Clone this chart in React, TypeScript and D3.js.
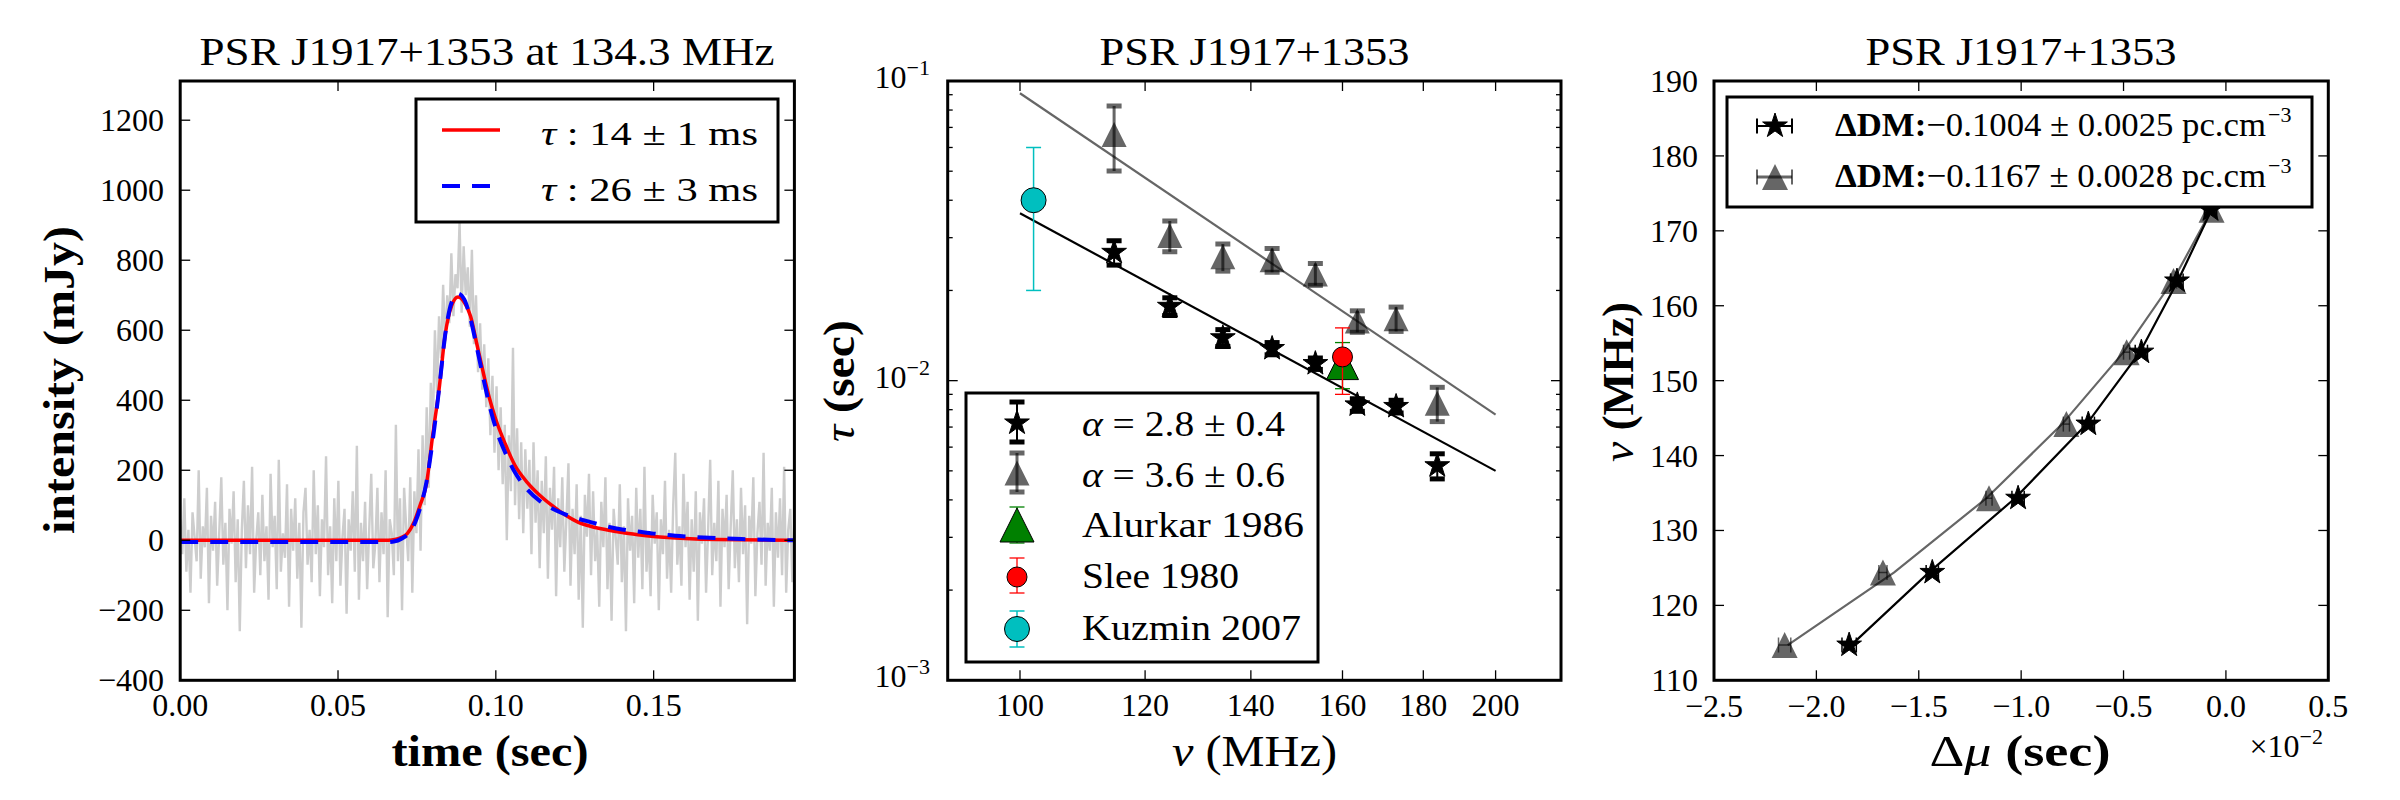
import React from "react";
import * as d3 from "d3";

const SERIF = "'Liberation Serif','Times New Roman',serif";

// ---------------- Panel 1 : pulse profile ----------------
const profileTimeMax = 0.1946;
const profileIntensity = [
  60, -40, 120, -90, 30, -150, 80, 10, -60, 200, -110, 40, -20, 150, -180, 70, -30, 110, -130, 20,
  180, -70, 50, -200, 90, -10, 140, -120, 60, -260, 30, 170, -80, 100, -40, 210, -150, 0, 80, -100,
  130, -60, 40, -170, 190, -20, 70, -140, 230, -90, 20, -50, 160, -190, 90, -30, 120, -110, 50, -250,
  80, 150, -70, 30, -120, 200, -40, 100, -160, 60, -20, 240, -100, 40, -180, 120, -60, 170, -130, 10,
  90, -210, 60, -30, 140, -90, 270, -170, 50, -60, 110, -140, 30, 190, -80, -10, 150, -120, 80, -40,
  200, -220, 60, 20, -100,
  330, -60, 120, -200, 150, 40, -60, 180, -150, 140, 20, 260, -30, 300, 100, 380, 150, 450, 320, 600,
  420, 640, 520, 730, 560, 700, 620, 820, 640, 760, 720, 910, 650, 840, 700, 780, 610, 830, 560, 700,
  480, 620, 430, 560, 380, 520, 300, 470, 250, 440, 200, 380, 160, 330, 0, 300, 140, 550, 100, 320,
  60, 280, 20, 260, 90, 230, -40, 280, 50, 200, -80, 170, 20, 240, -110, 150, 30, 210, -160, 120,
  -20, 180, -90, 60, 220, -130, 90, -40, 160, -170, 70, -250, 130, 10, 190, -100,
  140, -60, 30, -190, 110, -20, 180, -140, 50, -230, 90, 10, -70, 160, -120, 40, -260, 120, -30, 70,
  -180, 150, -50, 90, -140, 210, -90, 20, -160, 130, -10, 80, -200, 60, -40, 170, -110, 30, -150, 100,
  250, -70, 40, -130, 190, -20, 110, -170, 60, -90, 140, -230, 80, -10, 120, -150, 30, 230, -100, 50,
  -60, 170, -190, 90, -20, 130, -140, 40, 200, -80, 60, -120, 150, -40, 100, -240, 70, -10, 180, -160,
  20, 110, -70, 250, -130, 50, -30, 150, -190, 80, -50, 120, -100, 210, -150, 30, 90, -120, 60,
];
const redFitTime = [0, 0.066, 0.068, 0.07, 0.072, 0.074, 0.076, 0.078, 0.08, 0.082, 0.084, 0.086, 0.088, 0.09, 0.092, 0.094, 0.096, 0.098, 0.1, 0.103, 0.106, 0.11, 0.114, 0.118, 0.122, 0.126, 0.13, 0.135, 0.14, 0.145, 0.15, 0.16, 0.17, 0.1946];
const redFitValue = [0, 0, 2, 8, 20, 50, 100, 160, 300, 430, 590, 670, 695, 680, 640, 560, 480, 405, 345, 275, 215, 165, 128, 98, 72, 52, 40, 30, 22, 16, 11, 5, 2, 0];
const blueFitTime = [0, 0.066, 0.068, 0.07, 0.072, 0.074, 0.076, 0.078, 0.08, 0.082, 0.084, 0.086, 0.088, 0.09, 0.092, 0.094, 0.096, 0.098, 0.1, 0.103, 0.106, 0.11, 0.114, 0.118, 0.122, 0.126, 0.13, 0.135, 0.14, 0.145, 0.15, 0.16, 0.17, 0.18, 0.1946];
const blueFitValue = [-5, -5, -3, 4, 16, 42, 92, 165, 285, 430, 590, 680, 705, 688, 632, 550, 465, 385, 320, 250, 195, 145, 112, 90, 74, 62, 52, 40, 31, 25, 19, 11, 6, 3, 0];
const p1XTicks = [0, 0.05, 0.1, 0.15];
const p1XTickLabels = ["0.00", "0.05", "0.10", "0.15"];
const p1YTicks = [-400, -200, 0, 200, 400, 600, 800, 1000, 1200];

// ---------------- Panel 2 : tau vs frequency ----------------
const channelFreqs = [114.7, 124.4, 134.4, 144.4, 153.8, 163.5, 173.0, 183.7];
const tauStars = [0.0268, 0.0177, 0.0139, 0.0128, 0.0114, 0.0083, 0.0082, 0.0052];
const tauStarsErr = [0.0025, 0.0012, 0.0009, 0.0006, 0.0005, 0.0004, 0.0004, 0.0005];
const tauTris = [0.0663, 0.0305, 0.0259, 0.0253, 0.0227, 0.0158, 0.0161, 0.0084];
const tauTrisErr = [0.0162, 0.0036, 0.0027, 0.0023, 0.0019, 0.0013, 0.0015, 0.0011];
const fitFreqs = [100, 200];
const fitTauStars = [0.0362, 0.005];
const fitTauTris = [0.091, 0.0077];
const alurkarPoint = [160, 0.0114, 0.002];
const sleePoint = [160, 0.012, 0.003];
const kuzminPoint = [102, 0.04, 0.02];
const p2XTicks = [100, 120, 140, 160, 180, 200];
const p2YMajor = [0.001, 0.01, 0.1];
const p2YMajorExp = ["\u22123", "\u22122", "\u22121"];
const p2YMinor = [2, 3, 4, 5, 6, 7, 8, 9].flatMap((m) => [m * 0.001, m * 0.01]);

// ---------------- Panel 3 : delay vs frequency ----------------
const p3Freqs = [114.7, 124.4, 134.3, 144.2, 153.8, 163.3, 172.8];
const dmuStars = [-1.84, -1.434, -1.015, -0.672, -0.413, -0.239, -0.075];
const dmuStarsErr = [0.035, 0.03, 0.03, 0.03, 0.03, 0.03, 0.03];
const dmuTris = [-2.155, -1.675, -1.157, -0.779, -0.485, -0.256, -0.07];
const dmuTrisErr = [0.03, 0.02, 0.015, 0.015, 0.015, 0.015, 0.015];
const dmuFitStars = [-1.83, -1.45, -1.03, -0.68, -0.42, -0.235, -0.07];
const dmuFitTris = [-2.14, -1.62, -1.17, -0.8, -0.5, -0.26, -0.07];
const p3XTicks = [-2.5, -2.0, -1.5, -1.0, -0.5, 0.0, 0.5];
const p3YTicks = [110, 120, 130, 140, 150, 160, 170, 180, 190];

const MINUS = "\u2212";
const fmt = (v: number, d: number) => (v < 0 ? MINUS : "") + Math.abs(v).toFixed(d);

const triPath = (s: number) => `M0,${-s / 2}L${s / 2},${s / 2}L${-s / 2},${s / 2}Z`;
const starPath = (r: number) => d3.symbol(d3.symbolStar, (r * r) / 0.8908130915)()!;

const TOP = 81;
const BOT = 680.3;

function Frame({ x0, x1 }: { x0: number; x1: number }) {
  return <rect x={x0} y={TOP} width={x1 - x0} height={BOT - TOP} fill="none" stroke="#000" strokeWidth={3} />;
}

function VErr({ x, ya, yb, cap, lw, capLw, color, op = 1 }: any) {
  return (
    <g stroke={color} strokeOpacity={op}>
      <line x1={x} x2={x} y1={ya} y2={yb} strokeWidth={lw} />
      <line x1={x - cap} x2={x + cap} y1={ya} y2={ya} strokeWidth={capLw} />
      <line x1={x - cap} x2={x + cap} y1={yb} y2={yb} strokeWidth={capLw} />
    </g>
  );
}
function HErr({ y, xa, xb, cap, lw, capLw, color, op = 1 }: any) {
  return (
    <g stroke={color} strokeOpacity={op}>
      <line x1={xa} x2={xb} y1={y} y2={y} strokeWidth={lw} />
      <line x1={xa} x2={xa} y1={y - cap} y2={y + cap} strokeWidth={capLw} />
      <line x1={xb} x2={xb} y1={y - cap} y2={y + cap} strokeWidth={capLw} />
    </g>
  );
}

export default function App() {
  // Panel 1 scales
  const x1 = d3.scaleLinear().domain([0, profileTimeMax]).range([180.2, 794.4]);
  const y1 = d3.scaleLinear().domain([-400, 1312]).range([BOT, TOP]);
  const profLine = d3
    .line<number>()
    .x((_, i) => x1((i * profileTimeMax) / (profileIntensity.length - 1)))
    .y((v) => y1(v));
  const fitLine = (ts: number[]) =>
    d3
      .line<number>()
      .x((_, i) => x1(ts[i]))
      .y((v) => y1(v))
      .curve(d3.curveMonotoneX);

  // Panel 2 scales
  const x2 = d3.scaleLog().domain([90, 220]).range([947.7, 1561]);
  const y2 = d3.scaleLog().domain([0.001, 0.1]).range([BOT, TOP]);
  const line2 = d3
    .line<number>()
    .x((_, i) => x2(fitFreqs[i]))
    .y((v) => y2(v));

  // Panel 3 scales
  const x3 = d3.scaleLinear().domain([-2.5, 0.5]).range([1714, 2328.3]);
  const y3 = d3.scaleLinear().domain([110, 190]).range([BOT, TOP]);
  const line3 = d3
    .line<number>()
    .x((v) => x3(v))
    .y((_, i) => y3(p3Freqs[i]));

  const star = starPath(13);
  const tickLw = 1.3;

  return (
    <svg width={2400} height={800} style={{ position: "absolute", left: 0, top: 0, background: "#fff" }} fontFamily={SERIF}>
      <defs>
        <clipPath id="c1"><rect x={180.2} y={TOP} width={614.2} height={BOT - TOP} /></clipPath>
        <clipPath id="c2"><rect x={947.7} y={TOP} width={613.3} height={BOT - TOP} /></clipPath>
        <clipPath id="c3"><rect x={1714} y={TOP} width={614.3} height={BOT - TOP} /></clipPath>
      </defs>
      <rect x={0} y={0} width={2400} height={800} fill="#fff" />

      {/* ================= Panel 1 ================= */}
      <g clipPath="url(#c1)">
        <path d={profLine(profileIntensity)!} fill="none" stroke="#cdcdcd" strokeWidth={2.4} />
        <path d={fitLine(redFitTime)(redFitValue)!} fill="none" stroke="#ff0000" strokeWidth={3.5} />
        <path d={fitLine(blueFitTime)(blueFitValue)!} fill="none" stroke="#0000ff" strokeWidth={4} strokeDasharray="18,12" />
      </g>
      <g stroke="#000" strokeWidth={tickLw}>
        {p1XTicks.map((t) => (
          <g key={"x1" + t}>
            <line x1={x1(t)} x2={x1(t)} y1={BOT} y2={BOT - 10} />
            <line x1={x1(t)} x2={x1(t)} y1={TOP} y2={TOP + 10} />
          </g>
        ))}
        {p1YTicks.map((v) => (
          <g key={"y1" + v}>
            <line x1={180.2} x2={190.2} y1={y1(v)} y2={y1(v)} />
            <line x1={794.4} x2={784.4} y1={y1(v)} y2={y1(v)} />
          </g>
        ))}
      </g>
      <g fontSize={32} fill="#000">
        {p1XTicks.map((t, i) => (
          <text key={"xl1" + t} x={x1(t)} y={716} textAnchor="middle">{p1XTickLabels[i]}</text>
        ))}
        {p1YTicks.map((v) => (
          <text key={"yl1" + v} x={164} y={y1(v) + 11} textAnchor="end">{fmt(v, 0)}</text>
        ))}
      </g>
      <Frame x0={180.2} x1={794.4} />
      {/* legend 1 */}
      <rect x={416} y={99} width={362} height={123} fill="#fff" stroke="#000" strokeWidth={3} />
      <line x1={442} x2={500} y1={130} y2={130} stroke="#ff0000" strokeWidth={3.5} />
      <line x1={442} x2={500} y1={186} y2={186} stroke="#0000ff" strokeWidth={4} strokeDasharray="18,12" />
      <text x={541} y={145} fontSize={33} textLength={217} lengthAdjust="spacingAndGlyphs">
        <tspan fontStyle="italic">τ</tspan> : 14 ± 1 ms
      </text>
      <text x={541} y={201} fontSize={33} textLength={217} lengthAdjust="spacingAndGlyphs">
        <tspan fontStyle="italic">τ</tspan> : 26 ± 3 ms
      </text>
      <text x={487} y={65} fontSize={40} textAnchor="middle" textLength={575} lengthAdjust="spacingAndGlyphs">
        PSR J1917+1353 at 134.3 MHz
      </text>
      <text x={490} y={766} fontSize={44} fontWeight="bold" textAnchor="middle" textLength={197} lengthAdjust="spacingAndGlyphs">
        time (sec)
      </text>
      <text transform="translate(74,380) rotate(-90)" fontSize={44} fontWeight="bold" textAnchor="middle" textLength={308} lengthAdjust="spacingAndGlyphs">
        intensity (mJy)
      </text>

      {/* ================= Panel 2 ================= */}
      <g clipPath="url(#c2)">
        <path d={line2(fitTauTris)!} fill="none" stroke="#666" strokeWidth={2.2} />
        <path d={line2(fitTauStars)!} fill="none" stroke="#000" strokeWidth={2.2} />
        {channelFreqs.map((f, i) => (
          <g key={"s2" + i}>
            <VErr x={x2(f)} ya={y2(tauStars[i] + tauStarsErr[i])} yb={y2(tauStars[i] - tauStarsErr[i])} cap={7.5} lw={2} capLw={5} color="#000" />
            <path d={star} transform={`translate(${x2(f)},${y2(tauStars[i])})`} fill="#000" stroke="#000" strokeWidth={1} />
          </g>
        ))}
        {channelFreqs.map((f, i) => (
          <g key={"t2" + i}>
            <VErr x={x2(f)} ya={y2(tauTris[i] + tauTrisErr[i])} yb={y2(tauTris[i] - tauTrisErr[i])} cap={7.5} lw={3} capLw={5} color="#000" op={0.6} />
            <path d={triPath(25)} transform={`translate(${x2(f)},${y2(tauTris[i])})`} fill="#000" fillOpacity={0.6} />
          </g>
        ))}
        <VErr x={x2(alurkarPoint[0])} ya={y2(alurkarPoint[1] + alurkarPoint[2])} yb={y2(alurkarPoint[1] - alurkarPoint[2])} cap={7.5} lw={1.3} capLw={1.3} color="#008000" />
        <path d={triPath(32)} transform={`translate(${x2(alurkarPoint[0])},${y2(alurkarPoint[1])})`} fill="#008000" stroke="#000" strokeWidth={1} />
        <VErr x={x2(sleePoint[0])} ya={y2(sleePoint[1] + sleePoint[2])} yb={y2(sleePoint[1] - sleePoint[2])} cap={7.5} lw={1.3} capLw={1.3} color="#ff0000" />
        <circle cx={x2(sleePoint[0])} cy={y2(sleePoint[1])} r={10} fill="#ff0000" stroke="#000" strokeWidth={1} />
        <VErr x={x2(kuzminPoint[0])} ya={y2(kuzminPoint[1] + kuzminPoint[2])} yb={y2(kuzminPoint[1] - kuzminPoint[2])} cap={7.5} lw={1.5} capLw={1.5} color="#00bfbf" />
        <circle cx={x2(kuzminPoint[0])} cy={y2(kuzminPoint[1])} r={12.5} fill="#00bfbf" stroke="#000" strokeWidth={1} />
      </g>
      <g stroke="#000" strokeWidth={tickLw}>
        {p2XTicks.map((f) => (
          <g key={"x2" + f}>
            <line x1={x2(f)} x2={x2(f)} y1={BOT} y2={BOT - 10} />
            <line x1={x2(f)} x2={x2(f)} y1={TOP} y2={TOP + 10} />
          </g>
        ))}
        {p2YMajor.map((v) => (
          <g key={"y2" + v}>
            <line x1={947.7} x2={957.7} y1={y2(v)} y2={y2(v)} />
            <line x1={1561} x2={1551} y1={y2(v)} y2={y2(v)} />
          </g>
        ))}
        {p2YMinor.map((v) => (
          <g key={"ym2" + v}>
            <line x1={947.7} x2={952.7} y1={y2(v)} y2={y2(v)} />
            <line x1={1561} x2={1556} y1={y2(v)} y2={y2(v)} />
          </g>
        ))}
      </g>
      <g fontSize={32} fill="#000">
        {p2XTicks.map((f) => (
          <text key={"xl2" + f} x={x2(f)} y={716} textAnchor="middle">{f}</text>
        ))}
        {p2YMajor.map((v, i) => (
          <text key={"yl2" + v} x={930} y={y2(v) + 7} textAnchor="end">
            10<tspan fontSize={22} dy={-13}>{p2YMajorExp[i]}</tspan>
          </text>
        ))}
      </g>
      <Frame x0={947.7} x1={1561} />
      {/* legend 2 */}
      <rect x={966} y={393} width={352} height={269} fill="#fff" stroke="#000" strokeWidth={3} />
      <VErr x={1017} ya={402} yb={442} cap={7.5} lw={2} capLw={5} color="#000" />
      <path d={star} transform="translate(1017,423)" fill="#000" stroke="#000" strokeWidth={1} />
      <VErr x={1017} ya={453} yb={492} cap={7.5} lw={3} capLw={5} color="#000" op={0.6} />
      <path d={triPath(25)} transform="translate(1017,473)" fill="#000" fillOpacity={0.6} />
      <VErr x={1017} ya={507} yb={543} cap={7.5} lw={1.3} capLw={1.3} color="#008000" />
      <path d={triPath(34)} transform="translate(1017,525)" fill="#008000" stroke="#000" strokeWidth={1} />
      <VErr x={1017} ya={558} yb={593} cap={7.5} lw={1.3} capLw={1.3} color="#ff0000" />
      <circle cx={1017} cy={577} r={10} fill="#ff0000" stroke="#000" strokeWidth={1} />
      <VErr x={1017} ya={611} yb={647} cap={7.5} lw={1.5} capLw={1.5} color="#00bfbf" />
      <circle cx={1017} cy={629} r={12.5} fill="#00bfbf" stroke="#000" strokeWidth={1} />
      <g fontSize={35}>
        <text x={1082} y={436} textLength={203} lengthAdjust="spacingAndGlyphs"><tspan fontStyle="italic">α</tspan> = 2.8 ± 0.4</text>
        <text x={1082} y={487} textLength={203} lengthAdjust="spacingAndGlyphs"><tspan fontStyle="italic">α</tspan> = 3.6 ± 0.6</text>
        <text x={1082} y={537} textLength={222} lengthAdjust="spacingAndGlyphs">Alurkar 1986</text>
        <text x={1082} y={588} textLength={157} lengthAdjust="spacingAndGlyphs">Slee 1980</text>
        <text x={1082} y={640} textLength={219} lengthAdjust="spacingAndGlyphs">Kuzmin 2007</text>
      </g>
      <text x={1254.5} y={65} fontSize={40} textAnchor="middle" textLength={310} lengthAdjust="spacingAndGlyphs">PSR J1917+1353</text>
      <text x={1254.5} y={766} fontSize={44} textAnchor="middle" textLength={165} lengthAdjust="spacingAndGlyphs">
        <tspan fontStyle="italic">ν</tspan> (MHz)
      </text>
      <text transform="translate(854,381) rotate(-90)" fontSize={44} textAnchor="middle" textLength={122} lengthAdjust="spacingAndGlyphs">
        <tspan fontStyle="italic">τ</tspan> <tspan fontWeight="bold">(sec)</tspan>
      </text>

      {/* ================= Panel 3 ================= */}
      <g clipPath="url(#c3)">
        <path d={line3(dmuFitTris)!} fill="none" stroke="#666" strokeWidth={2.2} />
        <path d={line3(dmuFitStars)!} fill="none" stroke="#000" strokeWidth={2.2} />
        {p3Freqs.map((f, i) => (
          <g key={"t3" + i}>
            <HErr y={y3(f)} xa={x3(dmuTris[i] - dmuTrisErr[i])} xb={x3(dmuTris[i] + dmuTrisErr[i])} cap={7.5} lw={1.5} capLw={1.5} color="#000" op={0.6} />
            <path d={triPath(26)} transform={`translate(${x3(dmuTris[i])},${y3(f)})`} fill="#000" fillOpacity={0.6} />
          </g>
        ))}
        {p3Freqs.map((f, i) => (
          <g key={"s3" + i}>
            <HErr y={y3(f)} xa={x3(dmuStars[i] - dmuStarsErr[i])} xb={x3(dmuStars[i] + dmuStarsErr[i])} cap={7.5} lw={1.5} capLw={1.5} color="#000" />
            <path d={star} transform={`translate(${x3(dmuStars[i])},${y3(f)})`} fill="#000" stroke="#000" strokeWidth={1} />
          </g>
        ))}
      </g>
      <g stroke="#000" strokeWidth={tickLw}>
        {p3XTicks.map((v) => (
          <g key={"x3" + v}>
            <line x1={x3(v)} x2={x3(v)} y1={BOT} y2={BOT - 10} />
            <line x1={x3(v)} x2={x3(v)} y1={TOP} y2={TOP + 10} />
          </g>
        ))}
        {p3YTicks.map((v) => (
          <g key={"y3" + v}>
            <line x1={1714} x2={1724} y1={y3(v)} y2={y3(v)} />
            <line x1={2328.3} x2={2318.3} y1={y3(v)} y2={y3(v)} />
          </g>
        ))}
      </g>
      <g fontSize={32} fill="#000">
        {p3XTicks.map((v) => (
          <text key={"xl3" + v} x={x3(v)} y={717} textAnchor="middle">{fmt(v, 1)}</text>
        ))}
        {p3YTicks.map((v) => (
          <text key={"yl3" + v} x={1698} y={y3(v) + 11} textAnchor="end">{v}</text>
        ))}
        <text x={2323} y={757} textAnchor="end">
          ×10<tspan fontSize={22} dy={-13}>{MINUS}2</tspan>
        </text>
      </g>
      <Frame x0={1714} x1={2328.3} />
      {/* legend 3 */}
      <rect x={1727} y={97} width={585} height={110} fill="#fff" stroke="#000" strokeWidth={3} />
      <HErr y={126} xa={1757} xb={1792} cap={7.5} lw={2} capLw={2} color="#000" />
      <path d={star} transform="translate(1775,126)" fill="#000" stroke="#000" strokeWidth={1} />
      <HErr y={177} xa={1757} xb={1792} cap={7.5} lw={3} capLw={2} color="#000" op={0.6} />
      <path d={triPath(26)} transform="translate(1775,177)" fill="#000" fillOpacity={0.6} />
      <g fontSize={34}>
        <text x={1835} y={136} textLength={431} lengthAdjust="spacingAndGlyphs">
          <tspan fontWeight="bold">ΔDM:</tspan>{MINUS}0.1004 ± 0.0025 pc.cm
        </text>
        <text x={2268} y={122} fontSize={22}>{MINUS}3</text>
        <text x={1835} y={187} textLength={431} lengthAdjust="spacingAndGlyphs">
          <tspan fontWeight="bold">ΔDM:</tspan>{MINUS}0.1167 ± 0.0028 pc.cm
        </text>
        <text x={2268} y={173} fontSize={22}>{MINUS}3</text>
      </g>
      <text x={2021} y={65} fontSize={40} textAnchor="middle" textLength={311} lengthAdjust="spacingAndGlyphs">PSR J1917+1353</text>
      <text x={2020} y={766} fontSize={44} textAnchor="middle" textLength={181} lengthAdjust="spacingAndGlyphs">
        Δ<tspan fontStyle="italic">μ</tspan> <tspan fontWeight="bold">(sec)</tspan>
      </text>
      <text transform="translate(1633,382) rotate(-90)" fontSize={44} textAnchor="middle" textLength={160} lengthAdjust="spacingAndGlyphs">
        <tspan fontStyle="italic">ν</tspan> <tspan fontWeight="bold">(MHz)</tspan>
      </text>
    </svg>
  );
}
